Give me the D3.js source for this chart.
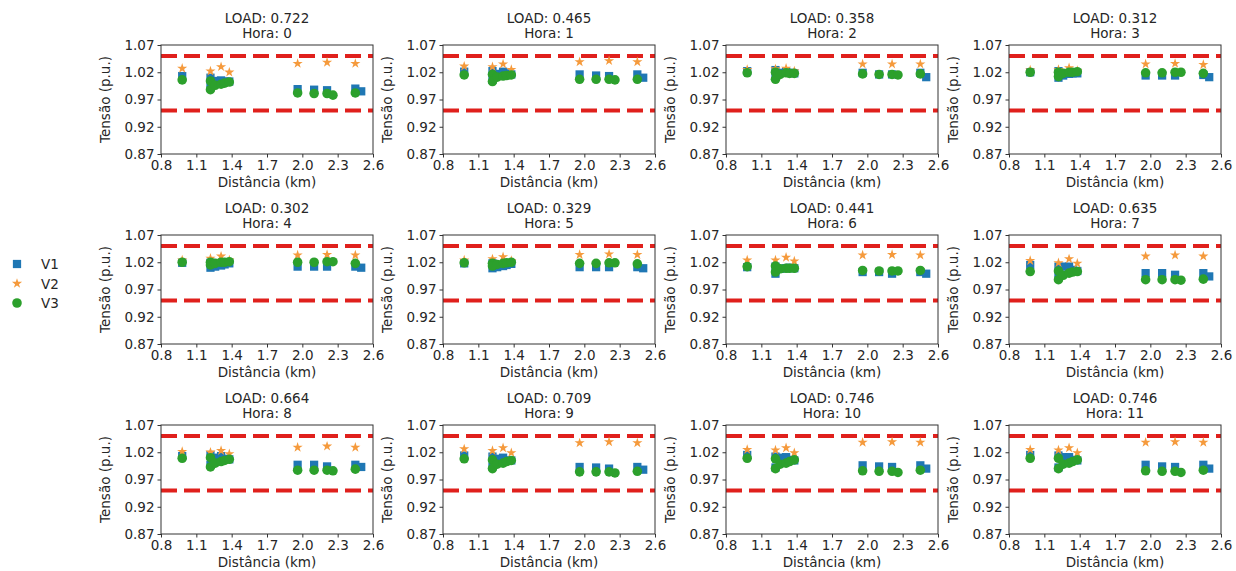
<!DOCTYPE html>
<html>
<head>
<meta charset="utf-8">
<script src="https://cdn.jsdelivr.net/npm/d3@7"></script>
<style>
  body { margin: 0; background: #fff; }
  svg { font-family: "DejaVu Sans", sans-serif; }
</style>
</head>
<body>
<svg id="chart" width="1236" height="571"></svg>
<script>
// distance of each bus along the feeder (km)
var distances = [0.98, 1.22, 1.22, 1.26, 1.31, 1.34, 1.38, 1.96, 2.10, 2.21, 2.26, 2.45, 2.50];
var hours = [0, 1, 2, 3, 4, 5, 6, 7, 8, 9, 10, 11];
var loads = ["0.722", "0.465", "0.358", "0.312", "0.302", "0.329", "0.441", "0.635", "0.664", "0.709", "0.746", "0.746"];
var yTicks = [0.87, 0.92, 0.97, 1.02, 1.07];
var xTicks = [0.8, 1.1, 1.4, 1.7, 2.0, 2.3, 2.6];
var limits = [1.05, 0.95];

// phase voltages (p.u.) per hour, one value per bus (null = no marker)
var v1 = [
  [1.013, 1.010, 0.993, 1.004, 1.005, 1.003, 1.003, 0.989, 0.988, 0.987, null, 0.990, 0.985],
  [1.021, 1.022, 1.006, 1.017, 1.021, 1.018, 1.016, 1.016, 1.014, 1.013, null, 1.016, 1.010],
  [1.022, 1.024, 1.012, 1.019, 1.021, 1.019, 1.018, 1.019, 1.016, 1.016, null, 1.019, 1.011],
  [1.020, 1.022, 1.010, 1.014, 1.017, 1.018, 1.018, 1.014, 1.014, 1.014, null, 1.015, 1.011],
  [1.019, 1.019, 1.010, 1.012, 1.014, 1.016, 1.018, 1.012, 1.012, 1.012, null, 1.012, 1.010],
  [1.018, 1.018, 1.009, 1.011, 1.013, 1.015, 1.017, 1.011, 1.011, 1.011, null, 1.011, 1.009],
  [1.011, 1.012, 0.999, 1.008, 1.009, 1.010, 1.009, 1.002, 1.002, 0.999, null, 1.002, 0.999],
  [1.015, 1.012, 0.996, 1.012, 1.012, 1.006, 1.004, 1.000, 1.000, 0.997, null, 1.000, 0.994],
  [1.013, 1.015, 0.997, 1.010, 1.013, 1.008, 1.007, 0.997, 0.997, 0.994, null, 0.997, 0.993],
  [1.014, 1.012, 0.994, 1.008, 1.010, 1.005, 1.005, 0.993, 0.992, 0.990, null, 0.993, 0.988],
  [1.015, 1.012, 0.992, 1.010, 1.011, 1.006, 1.005, 0.996, 0.994, 0.993, null, 0.996, 0.990],
  [1.015, 1.014, 0.992, 1.011, 1.011, 1.006, 1.005, 0.997, 0.994, 0.993, null, 0.997, 0.990]
];
var v2 = [
  [1.027, 1.022, null, null, 1.030, null, 1.020, 1.036, null, 1.038, null, 1.036, null],
  [1.031, 1.030, null, null, 1.035, null, 1.025, 1.039, null, 1.041, null, 1.039, null],
  [1.025, 1.026, null, null, 1.027, null, 1.022, 1.035, null, 1.035, null, 1.035, null],
  [1.024, 1.025, null, null, 1.028, null, 1.023, 1.035, null, 1.036, null, 1.034, null],
  [1.024, 1.027, null, null, 1.031, null, 1.024, 1.033, null, 1.034, null, 1.033, null],
  [1.024, 1.026, null, null, 1.030, null, 1.023, 1.034, null, 1.035, null, 1.034, null],
  [1.024, 1.024, null, null, 1.029, null, 1.022, 1.033, null, 1.034, null, 1.033, null],
  [1.023, 1.019, null, null, 1.026, null, 1.018, 1.031, null, 1.033, null, 1.031, null],
  [1.021, 1.020, null, null, 1.023, null, 1.017, 1.029, null, 1.031, null, 1.029, null],
  [1.026, 1.023, null, null, 1.028, null, 1.019, 1.037, null, 1.039, null, 1.037, null],
  [1.025, 1.024, null, null, 1.028, null, 1.019, 1.038, null, 1.039, null, 1.038, null],
  [1.025, 1.024, null, null, 1.028, null, 1.019, 1.038, null, 1.039, null, 1.038, null]
];
var v3 = [
  [1.006, 1.004, 0.988, 0.996, 0.998, 1.000, 1.002, 0.982, 0.981, 0.981, 0.978, 0.982, null],
  [1.015, 1.016, 1.003, 1.011, 1.013, 1.014, 1.015, 1.007, 1.007, 1.007, 1.006, 1.007, null],
  [1.019, 1.020, 1.007, 1.016, 1.019, 1.018, 1.018, 1.017, 1.016, 1.016, 1.015, 1.017, null],
  [1.020, 1.020, 1.012, 1.018, 1.020, 1.020, 1.021, 1.019, 1.019, 1.020, 1.020, 1.018, null],
  [1.020, 1.020, 1.015, 1.018, 1.020, 1.020, 1.021, 1.020, 1.020, 1.021, 1.021, 1.018, null],
  [1.019, 1.018, 1.013, 1.016, 1.018, 1.019, 1.020, 1.018, 1.018, 1.019, 1.019, 1.017, null],
  [1.012, 1.013, 1.002, 1.008, 1.009, 1.009, 1.009, 1.005, 1.004, 1.004, 1.004, 1.005, null],
  [1.003, 1.004, 0.988, 0.996, 1.000, 1.002, 1.003, 0.988, 0.988, 0.988, 0.987, 0.989, null],
  [1.009, 1.010, 0.993, 1.000, 1.003, 1.005, 1.007, 0.987, 0.987, 0.987, 0.986, 0.989, null],
  [1.008, 1.006, 0.990, 0.998, 1.000, 1.003, 1.005, 0.984, 0.984, 0.984, 0.982, 0.985, null],
  [1.009, 1.008, 0.990, 0.998, 1.000, 1.003, 1.006, 0.986, 0.985, 0.985, 0.983, 0.987, null],
  [1.009, 1.009, 0.990, 0.998, 1.000, 1.003, 1.006, 0.986, 0.985, 0.985, 0.983, 0.987, null]
];

var series = [
  {name: "V1", values: v1, color: "#1f77b4", shape: d3.symbolSquare, size: 68},
  {name: "V2", values: v2, color: "#f59a3c", shape: d3.symbolStar, size: 32},
  {name: "V3", values: v3, color: "#2ca02c", shape: d3.symbolCircle, size: 72}
];

var colLeft = [161, 443, 726, 1009];
var rowTop = [45, 235, 425];
var pw = 212, ph = 109;
var textColor = "#262626";

var svg = d3.select("#chart");

var x = d3.scaleLinear().domain([0.8, 2.6]).range([0, pw]);
var y = d3.scaleLinear().domain([0.87, 1.07]).range([ph, 0]);

hours.forEach(function(h, i) {
  var g = svg.append("g")
      .attr("transform", "translate(" + colLeft[i % 4] + "," + rowTop[Math.floor(i / 4)] + ")");

  // limit lines
  limits.forEach(function(l) {
    g.append("line")
        .attr("x1", 0).attr("x2", pw)
        .attr("y1", y(l)).attr("y2", y(l))
        .attr("stroke", "#e0201c")
        .attr("stroke-width", 4)
        .attr("stroke-dasharray", "16,7");
  });

  series.forEach(function(s) {
    var pts = distances.map(function(d, k) { return {d: d, v: s.values[i][k]}; })
        .filter(function(p) { return p.v !== null; });
    g.selectAll(null)
        .data(pts)
        .enter().append("path")
        .attr("d", d3.symbol().type(s.shape).size(s.size))
        .attr("transform", function(p) { return "translate(" + x(p.d) + "," + y(p.v) + ")"; })
        .attr("fill", s.color);
  });

  var xa = g.append("g")
      .attr("transform", "translate(0," + ph + ")")
      .call(d3.axisBottom(x).tickValues(xTicks).tickFormat(d3.format(".1f")).tickSize(3.5).tickPadding(3));
  var ya = g.append("g")
      .call(d3.axisLeft(y).tickValues(yTicks).tickFormat(d3.format(".2f")).tickSize(3.5).tickPadding(3));
  [xa, ya].forEach(function(a) {
    a.select(".domain").remove();
    a.selectAll("line").attr("stroke", "#333");
    a.selectAll("text").attr("fill", textColor).style("font-size", "13.5px").style("font-family", "DejaVu Sans");
  });

  g.append("rect")
      .attr("width", pw).attr("height", ph)
      .attr("fill", "none")
      .attr("stroke", "#333")
      .attr("stroke-width", 1);

  g.append("text")
      .attr("x", pw / 2).attr("y", -22)
      .attr("text-anchor", "middle")
      .attr("fill", textColor)
      .style("font-size", "13.5px")
      .text("LOAD: " + loads[i]);
  g.append("text")
      .attr("x", pw / 2).attr("y", -7)
      .attr("text-anchor", "middle")
      .attr("fill", textColor)
      .style("font-size", "13.5px")
      .text("Hora: " + h);

  g.append("text")
      .attr("x", pw / 2).attr("y", ph + 33)
      .attr("text-anchor", "middle")
      .attr("fill", textColor)
      .style("font-size", "13.5px")
      .text("Distância (km)");
  g.append("text")
      .attr("transform", "translate(-51," + (ph / 2) + ") rotate(-90)")
      .attr("text-anchor", "middle")
      .attr("fill", textColor)
      .style("font-size", "13.5px")
      .text("Tensão (p.u.)");
});

// legend
var legend = svg.append("g").attr("transform", "translate(17,264)");
series.forEach(function(s, k) {
  var row = legend.append("g").attr("transform", "translate(0," + (k * 19.5) + ")");
  row.append("path")
      .attr("d", d3.symbol().type(s.shape).size(s.size))
      .attr("fill", s.color);
  row.append("text")
      .attr("x", 24).attr("y", 5)
      .attr("fill", textColor)
      .style("font-size", "13.5px")
      .text(s.name);
});
</script>
</body>
</html>
